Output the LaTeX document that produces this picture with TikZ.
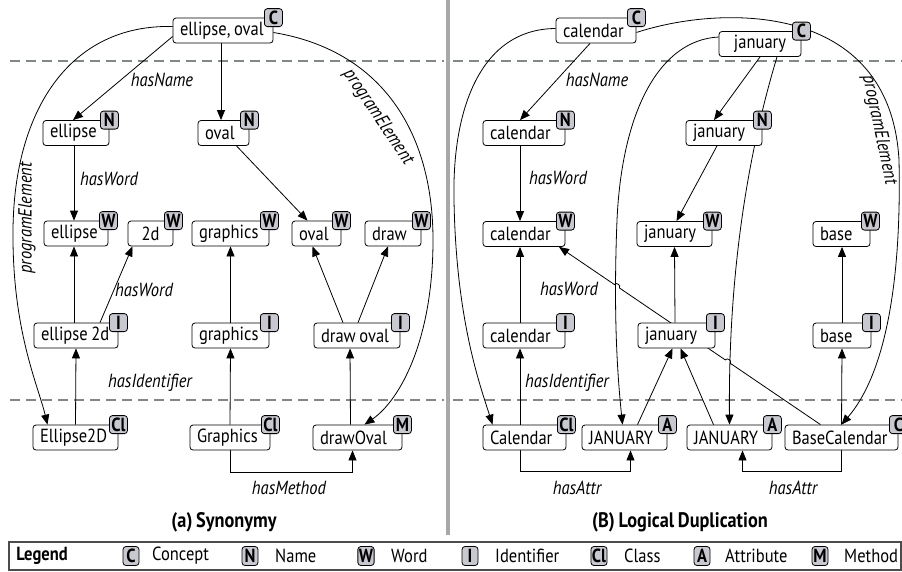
\documentclass[tikz,border=0pt]{standalone}
\usepackage{fontspec}
\setmainfont{PT Sans}[FakeStretch=0.87, WordSpace=0.8]
\usetikzlibrary{arrows.meta,calc,backgrounds}
\definecolor{badgegray}{RGB}{200,200,208}
\definecolor{dashgray}{RGB}{128,136,138}
\definecolor{divgray}{RGB}{168,168,168}
\newcommand\nfont{\fontsize{19}{19}\selectfont}
\newcommand\lbox[2]{\makebox[#1pt][l]{#2}}
\newcommand\cbox[2]{\makebox[#1pt][c]{#2}}
\begin{document}
\begin{tikzpicture}[x=1pt,y=-1pt,
  nd/.style={draw, rounded corners=3pt, fill=white, minimum height=25pt, inner xsep=7pt, inner ysep=0pt, font=\nfont, line width=0.8pt},
  badge/.style={draw, rounded corners=3pt, fill=badgegray, minimum width=18pt, minimum height=18pt, inner xsep=1.5pt, inner ysep=0pt, font=\bfseries\nfont, line width=0.8pt},
  lbadge/.style={draw, rounded corners=3pt, fill=badgegray, minimum width=16pt, minimum height=19pt, inner xsep=1pt, inner ysep=0pt, font=\bfseries\nfont, line width=0.8pt},
  lbl/.style={font=\itshape\nfont, inner sep=1pt},
  ltext/.style={font=\nfont, anchor=west, inner sep=0pt},
  captext/.style={font=\bfseries\fontsize{21}{21}\selectfont},
  arr/.style={-{Triangle[length=10pt,width=8pt]}, line width=0.8pt},
  dsh/.style={dashgray, line width=2.6pt, dash pattern=on 10pt off 6pt},
]
\useasboundingbox (0,0) rectangle (902,571);

% ---------- left panel nodes
\node[nd] (eo) at (223,30.5) {\lbox{86}{ellipse, oval}};
\node[nd] (eN) at (76,133) {\lbox{52}{ellipse}};
\node[nd] (oN) at (223.5,133) {\lbox{37}{oval}};
\node[nd] (eW) at (76,233.5) {\lbox{50}{ellipse}};
\node[nd] (dW2) at (150.5,233.5) {\cbox{31}{2d}};
\node[nd] (gW) at (230.5,233.5) {\lbox{63}{graphics}};
\node[nd] (oW) at (316.5,233.5) {\lbox{35}{oval}};
\node[nd] (dW) at (393,233.5) {\lbox{42}{draw}};
\node[nd] (eI) at (76,335.5) {\lbox{70}{ellipse 2d}};
\node[nd] (gI) at (230.5,335.5) {\lbox{63}{graphics}};
\node[nd] (doI) at (357,335.5) {\lbox{72}{draw oval}};
\node[nd] (E2D) at (75.5,437.5) {\lbox{71}{Ellipse2D}};
\node[nd] (G) at (230,437.5) {\lbox{66}{Graphics}};
\node[nd] (dO) at (357.5,437.5) {\lbox{75}{drawOval}};

\node[badge] (eoB) at (eo.north east) {C};
\node[badge] (eNB) at (eN.north east) {N};
\node[badge] (oNB) at (oN.north east) {N};
\node[badge] (eWB) at (eW.north east) {W};
\node[badge] (dW2B) at (dW2.north east) {W};
\node[badge] (gWB) at (gW.north east) {W};
\node[badge] (oWB) at (oW.north east) {W};
\node[badge] (dWB) at (dW.north east) {W};
\node[badge] (eIB) at (eI.north east) {I};
\node[badge] (gIB) at (gI.north east) {I};
\node[badge] (doIB) at (doI.north east) {I};
\node[badge] (E2DB) at (E2D.north east) {Cl};
\node[badge] (GB) at (G.north east) {Cl};
\node[badge] (dOB) at (dO.north east) {M};

% ---------- right panel nodes
\node[nd] (calC) at (596,30.5) {\lbox{66}{calendar}};
\node[nd] (janC) at (760,44) {\cbox{68}{january}};
\node[nd] (calN) at (524,133) {\lbox{68}{calendar}};
\node[nd] (janN) at (724,133) {\lbox{62}{january}};
\node[nd] (calW) at (524,234) {\lbox{68}{calendar}};
\node[nd] (janW) at (674.5,234) {\lbox{61}{january}};
\node[nd] (baseW) at (841.5,234) {\lbox{43}{base}};
\node[nd] (calI) at (524,335.5) {\lbox{68}{calendar}};
\node[nd] (janI) at (676.5,335.5) {\lbox{63}{january}};
\node[nd] (baseI) at (842,335.5) {\lbox{44}{base}};
\node[nd] (Cal) at (524.5,437.5) {\lbox{69}{Calendar}};
\node[nd] (JAN1) at (624.5,437.5) {\lbox{71}{JANUARY}};
\node[nd] (JAN2) at (729.5,437.5) {\lbox{71}{JANUARY}};
\node[nd] (BaseCal) at (841.5,437.5) {\lbox{99}{BaseCalendar}};

\node[badge] (calCB) at (calC.north east) {C};
\node[badge] (janCB) at (janC.north east) {C};
\node[badge] (calNB) at (calN.north east) {N};
\node[badge] (janNB) at (janN.north east) {N};
\node[badge] (calWB) at (calW.north east) {W};
\node[badge] (janWB) at (janW.north east) {W};
\node[badge] (baseWB) at (baseW.north east) {W};
\node[badge] (calIB) at (calI.north east) {I};
\node[badge] (janIB) at (janI.north east) {I};
\node[badge] (baseIB) at (baseI.north east) {I};
\node[badge] (CalB) at (Cal.north east) {Cl};
\node[badge] (JAN1B) at (JAN1.north east) {A};
\node[badge] (JAN2B) at (JAN2.north east) {A};
\node[badge] (BaseCalB) at (BaseCal.north east) {C};

% ---------- labels
\node[lbl] (lA1) at (162,80) {hasName};
\node[lbl] (lA2) at (109,179) {hasWord};
\node[lbl] (lA3) at (144,290) {hasWord};
\node[lbl] (lA4) at (150,383) {hasIdentifier};
\node[lbl] (lA5) at (289,488) {hasMethod};
\node[lbl, rotate=90] (lA6) at (27,218) {programElement};
\node[lbl, rotate=-56] (lA7) at (378,117) {programElement};

\node[lbl] (lB1) at (597,80) {hasName};
\node[lbl] (lB2) at (558,178) {hasWord};
\node[lbl] (lB3) at (569,289) {hasWord};
\node[lbl] (lB4) at (567,383) {hasIdentifier};
\node[lbl] (lB5) at (577,488) {hasAttr};
\node[lbl] (lB6) at (793,488) {hasAttr};
\node[lbl, rotate=-78] (lB7) at (879,130) {programElement};

\node[captext] (capA) at (224,522) {(a) Synonymy};
\node[captext] (capB) at (680,522) {(B) Logical Duplication};

% ---------- legend
\draw[black!70, line width=1.2pt] (9,542) rectangle (901,570);
\node[font=\bfseries\nfont] (lgL) at (42,556) {Legend};
\node[lbadge] (lgC) at (131,556) {C};
\node[ltext] (lgCt) at (152,556) {Concept};
\node[lbadge] (lgN) at (250,556) {N};
\node[ltext] (lgNt) at (275,556) {Name};
\node[lbadge] (lgW) at (366,556) {W};
\node[ltext] (lgWt) at (391,556) {Word};
\node[lbadge] (lgI) at (470,556) {I};
\node[ltext] (lgIt) at (495,556) {Identifier};
\node[lbadge] (lgCl) at (599,556) {Cl};
\node[ltext] (lgClt) at (624,556) {Class};
\node[lbadge] (lgA) at (702,556) {A};
\node[ltext] (lgAt) at (725,556) {Attribute};
\node[lbadge] (lgM) at (820,556) {M};
\node[ltext] (lgMt) at (844,556) {Method};

\begin{pgfonlayer}{background}
% dashed separators and divider
\draw[dsh] (10,61) -- (444,61);
\draw[dsh] (453,61) -- (902,61);
\draw[dsh] (10,400) -- (444,400);
\draw[dsh] (453,400) -- (902,400);
\draw[divgray, line width=4pt] (447.5,0) -- (447.5,535);

% left connectors
\draw[arr] ([yshift=-6pt]eo.west) -- ([xshift=-3pt]eN.north);
\draw[arr] ([xshift=-2pt]eo.south) -- ([xshift=-2.5pt]oN.north);
\draw[arr] ([xshift=-2pt]eN.south) -- ([xshift=-2pt]eW.north);
\draw[arr] ([xshift=13pt]oN.south) -- ([xshift=-9pt]oW.north);
\draw[arr] ([xshift=-2pt]eI.north) -- ([xshift=-2pt]eW.south);
\draw[arr] ([xshift=24pt]eI.north) -- ([xshift=-18pt]dW2.south);
\draw[arr] (gI.north) -- (gW.south);
\draw[arr] ([xshift=-14pt]doI.north) -- ([xshift=-4pt]oW.south);
\draw[arr] ([xshift=1pt]doI.north) -- ([xshift=-5pt]dW.south);
\draw[arr] (E2D.north) -- (eI.south);
\draw[arr] (G.north) -- (gI.south);
\draw[arr] ([xshift=-7pt]dO.north) -- ([xshift=-7pt]doI.south);
\draw[arr] (G.south) -- ++(0,22) -| ([xshift=-5pt]dO.south);
\draw[arr] ([yshift=4pt]eo.west) .. controls (70,24) and (14,110) .. (13,230)
   .. controls (12,330) and (38,385) .. ([xshift=-28pt]E2D.north);
\draw[arr] ([yshift=-2pt]eo.east) .. controls (380,50) and (433,130) .. (433,240)
   .. controls (433,340) and (400,400) .. ([xshift=7pt]dO.north);

% right connectors
\draw[arr] ([xshift=-6pt]calC.south) -- ([xshift=-4pt]calN.north);
\draw[arr] (janC.south) -- ([xshift=-10pt]janN.north);
\draw[arr] ([xshift=-7pt]janN.south) -- ([xshift=2pt]janW.north);
\draw[arr] ([xshift=-4pt]calN.south) -- ([xshift=-4pt]calW.north);
\draw[arr] ([xshift=-4pt]calI.north) -- ([xshift=-4pt]calW.south);
\draw[arr] ([xshift=-4.5pt]Cal.north) -- ([xshift=-4pt]calI.south);
\draw[arr] ([xshift=-1.5pt]janI.north) -- (janW.south);
\draw[arr] (baseI.north) -- ([xshift=0.5pt]baseW.south);
\draw[arr] (BaseCal.north) -- (baseI.south);
\draw[arr] ([xshift=13pt]JAN1.north) -- ([xshift=-4pt]janI.south);
\draw[arr] ([xshift=-16pt]JAN2.north) -- ([xshift=4pt]janI.south);
\draw[arr] ([xshift=-4.5pt]Cal.south) -- ++(0,21) -| ([xshift=6pt]JAN1.south);
\draw[arr] (BaseCal.south) -- ++(0,21) -| ([xshift=13pt]JAN2.south);
\draw[arr] ([yshift=2pt]calC.west) .. controls (480,29) and (452,110) .. (454,200)
   .. controls (456,320) and (480,385) .. ([xshift=-32pt]Cal.north);
\draw[arr] ([yshift=-2pt]calC.east) .. controls (720,5) and (890,0) .. (899,160)
   .. controls (902,300) and (880,380) .. (BaseCal.north);
\draw[arr] ([yshift=7pt]janC.west) .. controls (660,40) and (622,110) .. (617,220)
   .. controls (613,320) and (618,380) .. ([xshift=-2pt]JAN1.north);
\draw[arr] ([xshift=17pt]janC.south) .. controls (755,130) and (728,250) .. (JAN2.north);
\coordinate (hs) at ([xshift=-21pt]BaseCal.north);
\coordinate (he) at ([xshift=35pt]calW.south);
\draw[arr] (hs) -- ($(hs)!0.345!(he)$) to[bend right=90, looseness=1.4] ($(hs)!0.364!(he)$)
   -- ($(hs)!0.769!(he)$) to[bend right=90, looseness=1.4] ($(hs)!0.788!(he)$) -- (he);
\end{pgfonlayer}
\end{tikzpicture}
\end{document}
